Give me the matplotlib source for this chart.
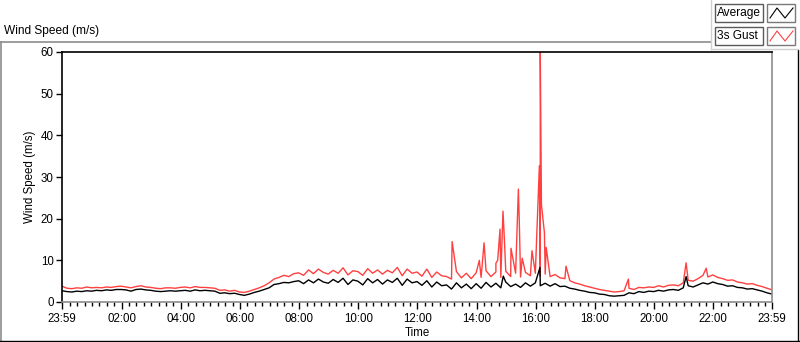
import matplotlib.pyplot as plt
import numpy as np
from matplotlib.lines import Line2D
from matplotlib.patches import Rectangle

plt.rcParams['font.family'] = ['Liberation Sans', 'DejaVu Sans']
plt.rcParams['font.size'] = 8.3

# samples every 10 minutes, starting 23:59 of the previous day (hours of day)
start_hour = -1 / 60
step_hours = 1 / 6

avg_speed = [
    2.7, 2.5, 2.4, 2.6, 2.5, 2.7,
    2.6, 2.8, 2.7, 2.9, 2.8, 3.0,
    3.0, 2.9, 2.6, 3.0, 3.1, 2.9,
    2.8, 2.6, 2.5, 2.6, 2.7, 2.6,
    2.7, 2.8, 2.6, 2.9, 2.7, 2.8,
    2.7, 2.6, 2.1, 2.2, 2.0, 2.1,
    1.8, 1.6, 1.9, 2.3, 2.6, 3.0,
    3.4, 4.2, 4.4, 4.7, 4.6, 4.9,
    5.1, 4.4, 5.3, 4.6, 5.5, 4.8,
    4.5, 5.4, 4.7, 5.7, 4.2, 5.3,
    5.0, 4.1, 5.6, 4.6, 5.4, 4.3,
    5.3, 4.7, 5.7, 4.0, 5.5, 4.6,
    4.9, 4.0, 5.1, 3.6, 4.8, 3.9,
    4.1, 3.1, 4.6, 3.4, 4.3, 3.2,
    4.4, 3.3, 4.7, 3.6, 4.5, 3.4,
    4.8, 3.7, 4.3, 3.5, 4.6, 3.8,
    4.6, 3.9, 4.5, 3.8, 4.4, 3.7,
    3.8, 3.3, 3.1, 2.8, 2.6, 2.3,
    2.2, 1.9, 1.8, 1.5, 1.4, 1.5,
    1.6, 2.2, 2.0, 2.5, 2.3, 2.6,
    2.5, 2.8, 2.6, 2.9, 3.0, 2.8,
    3.4, 3.9, 3.6, 4.1, 4.6, 4.3,
    4.8, 4.4, 4.2, 3.8, 3.9, 3.5,
    3.4, 3.1, 3.2, 2.9, 2.6, 2.2,
    1.9,
]

gust_speed = [
    3.8, 3.3, 3.2, 3.4, 3.3, 3.6,
    3.4, 3.5, 3.4, 3.6, 3.5, 3.7,
    3.8, 3.6, 3.4, 3.7, 3.9, 3.6,
    3.5, 3.3, 3.2, 3.4, 3.4, 3.3,
    3.5, 3.6, 3.4, 3.7, 3.5, 3.5,
    3.4, 3.3, 2.8, 2.9, 2.6, 2.8,
    2.4, 2.3, 2.6, 3.0, 3.4, 3.9,
    4.6, 5.5, 5.9, 6.4, 6.1, 6.8,
    7.0, 6.4, 7.7, 6.8, 7.9, 7.1,
    6.7, 7.6, 6.9, 8.2, 6.5, 7.5,
    7.3, 6.4, 8.0, 6.9, 7.7, 6.7,
    7.6, 7.0, 8.3, 6.3, 7.9, 6.9,
    7.2, 6.2, 7.9, 5.9, 7.2, 6.3,
    6.1, 5.5, 7.3, 5.8, 6.9, 5.6,
    7.0, 5.9, 7.5, 6.1, 7.2, 5.9,
    7.4, 6.1, 6.9, 6.0, 7.1, 6.3,
    6.9, 6.2, 6.7, 6.1, 6.6, 5.8,
    5.6, 5.1, 4.6, 4.3, 3.9, 3.6,
    3.3, 3.0, 2.8, 2.6, 2.4, 2.5,
    2.7, 3.3, 3.0, 3.5, 3.4, 3.6,
    3.5, 3.9, 3.6, 4.0, 4.1, 3.9,
    4.6, 5.2, 5.0, 5.6, 6.4, 6.0,
    6.5, 5.9, 5.6, 5.2, 5.3, 4.8,
    4.6, 4.3, 4.4, 4.0, 3.7, 3.3,
    2.9,
]

# short gust peaks (hour of day, m/s)
gust_peak_hours = [13.17, 14.09, 14.25, 14.65, 14.71, 14.79, 14.89, 14.94, 15.16,
                   15.41, 15.44, 15.54, 15.87, 16.12, 16.15, 16.19, 16.29, 16.35,
                   17.02, 19.13, 21.08, 21.76]
gust_peak_values = [14.5, 10.0, 14.2, 9.3, 10.0, 17.5, 21.8, 14.6, 12.9,
                    27.1, 19.7, 10.5, 12.3, 32.7, 60.0, 23.3, 16.7, 13.1,
                    8.6, 5.5, 9.4, 8.1]
avg_peak_hours = [14.90, 16.14, 21.08]
avg_peak_values = [6.2, 8.3, 6.1]

tick_labels = ['23:59', '02:00', '04:00', '06:00', '08:00', '10:00', '12:00',
               '14:00', '16:00', '18:00', '20:00', '22:00', '23:59']


def merged(values, peak_hours, peak_values):
    t = start_hour + step_hours * np.arange(len(values))
    t = np.concatenate([t, peak_hours])
    v = np.concatenate([values, peak_values])
    order = np.argsort(t, kind='stable')
    return t[order], v[order]


W, H = 800, 342
fig = plt.figure(figsize=(W / 100, H / 100), dpi=100)


def fx(x):
    return x / W


def fy(y):
    return 1 - y / H


ax = fig.add_axes([fx(62), fy(302), fx(772) - fx(62), fy(52) - fy(302)])

t_g, v_g = merged(gust_speed, gust_peak_hours, gust_peak_values)
t_a, v_a = merged(avg_speed, avg_peak_hours, avg_peak_values)
ax.plot(t_g, v_g, color='#ff4040', lw=1.0)
ax.plot(t_a, v_a, color='black', lw=1.0)

end_hour = 24 + start_hour
ax.set_xlim(start_hour, end_hour)
ax.set_ylim(0, 60)

major = [start_hour] + list(range(2, 24, 2)) + [end_hour]
ax.set_xticks(major)
ax.set_xticklabels(tick_labels)
ax.set_xticks([h / 4 for h in range(1, 96) if h % 8 != 0], minor=True)
ax.set_yticks(range(0, 61, 10))
ax.tick_params(axis='x', which='major', length=5, width=1, pad=3)
ax.tick_params(axis='x', which='minor', length=3, width=1)
ax.tick_params(axis='y', length=4, width=1, pad=2)

ax.set_xlabel('Time', labelpad=1)
ax.set_ylabel('Wind Speed (m/s)')
ax.yaxis.set_label_coords(-0.036, 0.5)

for side in ['top', 'left']:
    ax.spines[side].set_color('black')
for side in ['right', 'bottom']:
    ax.spines[side].set_color('#8c8c8c')
for s in ax.spines.values():
    s.set_linewidth(1.2)

# panel decorations
fig.text(fx(4), fy(31), 'Wind Speed (m/s)', va='center', ha='left', fontsize=8.6)
gray = '#8c8c8c'
fig.add_artist(Line2D([fx(0), fx(711)], [fy(42), fy(42)], color=gray, lw=1.2))
fig.add_artist(Line2D([fx(1), fx(1)], [fy(42), fy(341)], color=gray, lw=1.2))
fig.add_artist(Line2D([fx(0), fx(800)], [fy(341), fy(341)], color='black', lw=1))
fig.add_artist(Line2D([fx(798), fx(798)], [fy(50), fy(342)], color='black', lw=1))
fig.add_artist(Line2D([fx(711), fx(711)], [fy(0), fy(49)], color='#d0d0d0', lw=1))
fig.add_artist(Line2D([fx(711), fx(798)], [fy(49), fy(49)], color='#d0d0d0', lw=1))

# legend
legend_names = ['Average', '3s Gust']
legend_colors = ['black', '#ff4040']
for i, (name, col) in enumerate(zip(legend_names, legend_colors)):
    y0 = 4 + 23 * i
    fig.add_artist(Rectangle((fx(715), fy(y0 + 18)), fx(48), fy(0) - fy(18),
                             facecolor='white', edgecolor='#5a5a5a', lw=1))
    fig.text(fx(717), fy(y0 + 9), name, va='center', ha='left', fontsize=8.6)
    fig.add_artist(Rectangle((fx(767), fy(y0 + 18)), fx(28), fy(0) - fy(18),
                             facecolor='white', edgecolor='#7a7a7a', lw=1))
    fig.add_artist(Line2D([fx(770), fx(777), fx(785), fx(793)],
                          [fy(y0 + 14), fy(y0 + 4), fy(y0 + 14), fy(y0 + 4)],
                          color=col, lw=0.8))

fig.savefig('out.png', dpi=100)
